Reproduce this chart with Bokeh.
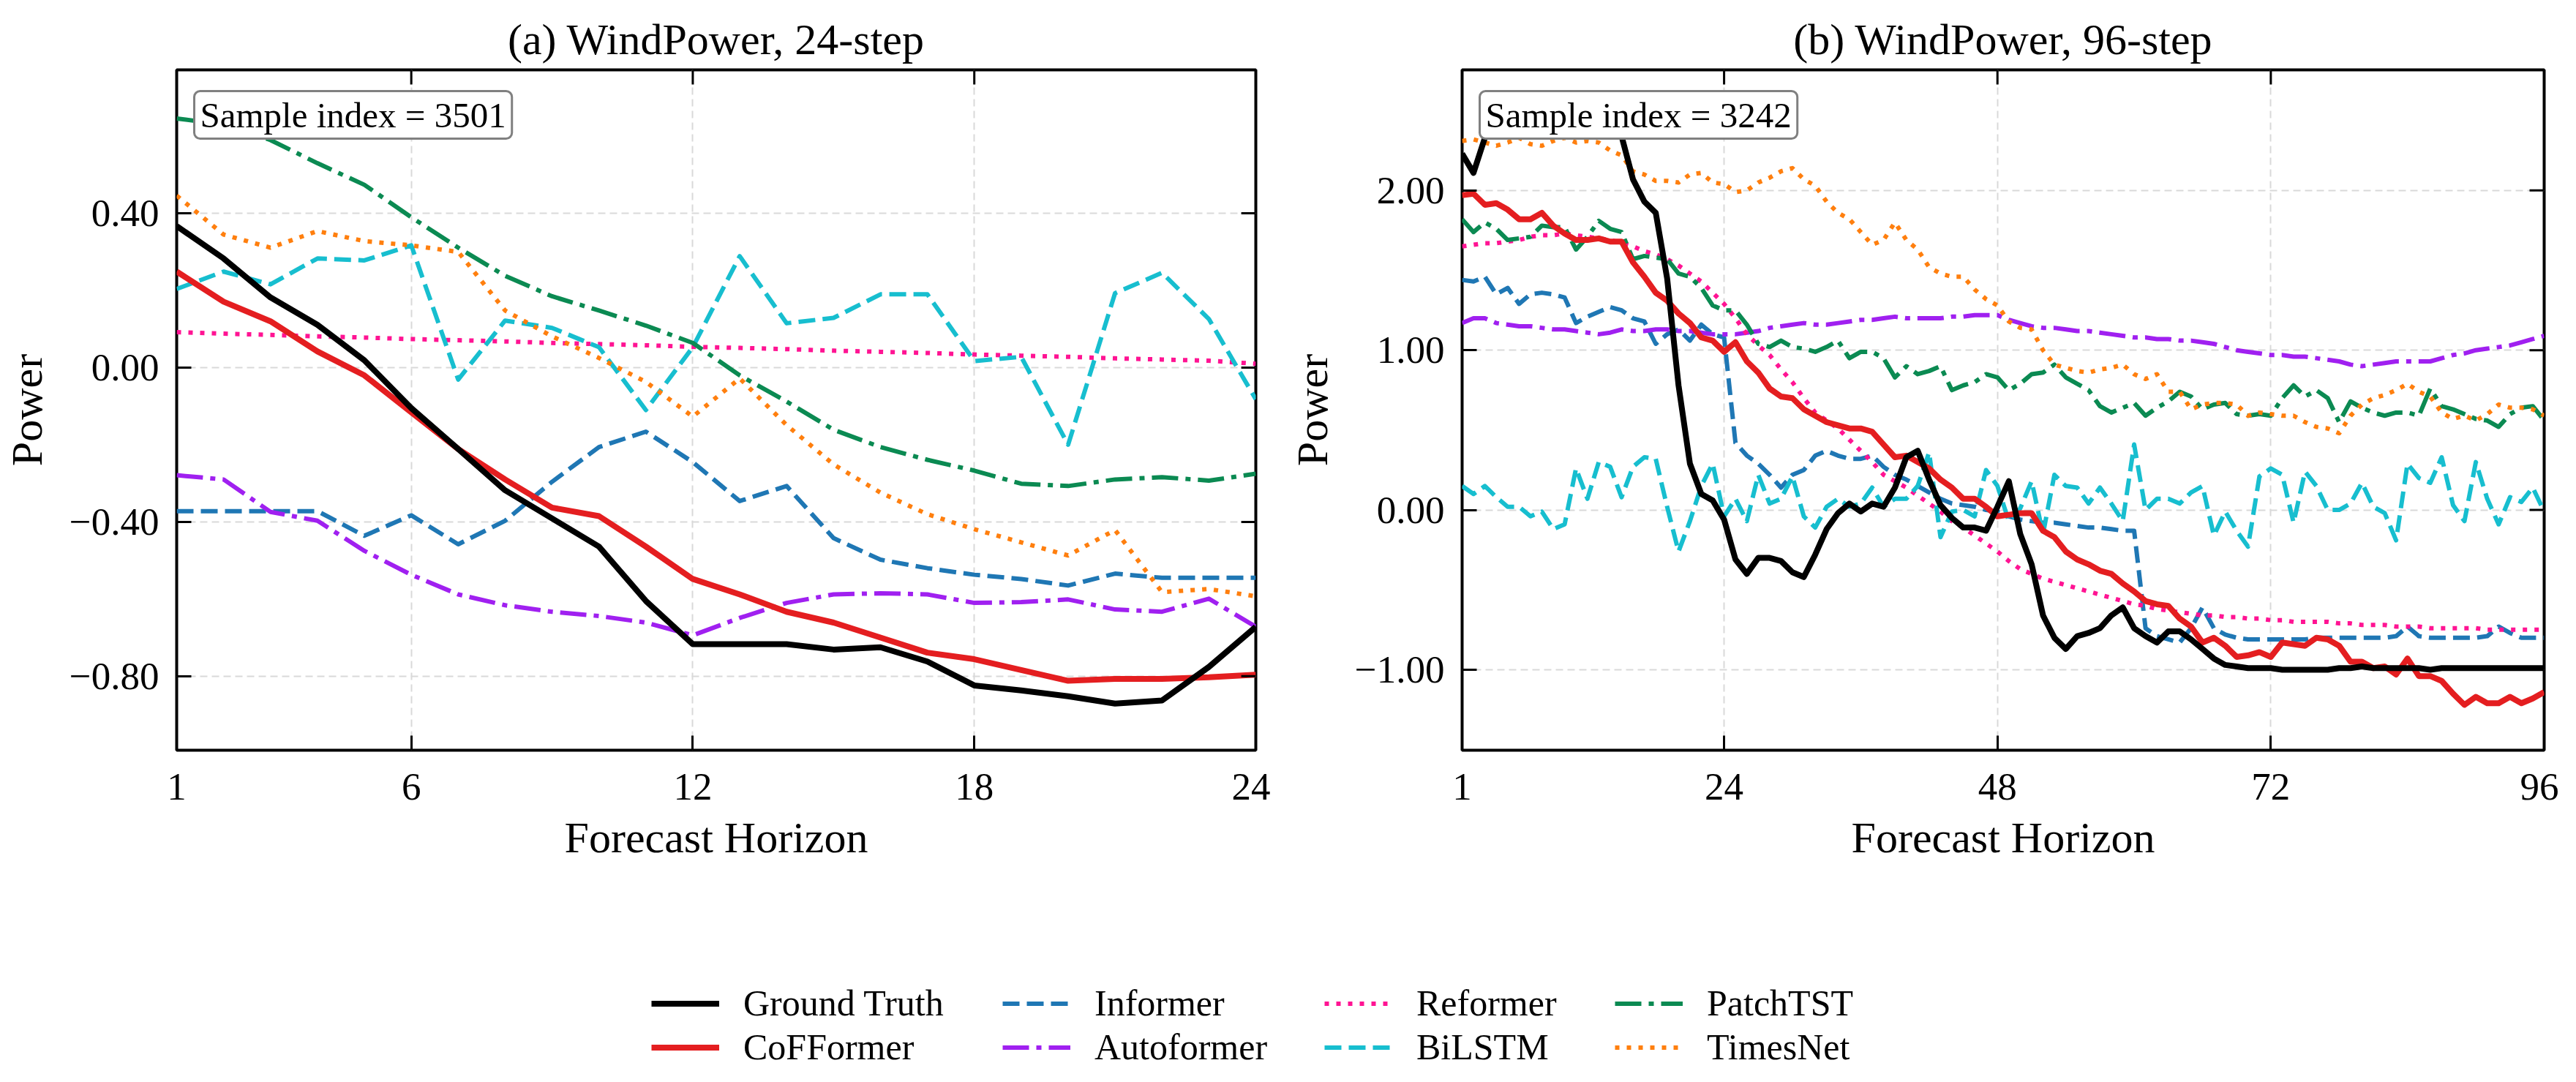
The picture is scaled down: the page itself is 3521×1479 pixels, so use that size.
from bokeh.plotting import figure
from bokeh.models import (Range1d, FixedTicker, CustomJSTickFormatter,
                          Label, Legend, LegendItem)
from bokeh.layouts import column, row
from bokeh.embed import file_html
from bokeh.resources import INLINE

FONT = "Liberation Serif"

# ---------------- data: panel (a) 24-step ----------------
steps_a = list(range(1, 25))
gt_a = [0.367, 0.283, 0.182, 0.111, 0.019, -0.105, -0.211, -0.318, -0.391, -0.464, -0.605, -0.717,
        -0.717, -0.717, -0.731, -0.725, -0.762, -0.824, -0.837, -0.852, -0.871, -0.863, -0.776, -0.672]
cof_a = [0.249, 0.171, 0.120, 0.042, -0.020, -0.116, -0.211, -0.290, -0.363, -0.385, -0.464, -0.548,
         -0.588, -0.633, -0.661, -0.700, -0.739, -0.756, -0.784, -0.812, -0.807, -0.807, -0.803, -0.796]
informer_a = [-0.372, -0.372, -0.372, -0.372, -0.436, -0.383, -0.458, -0.397, -0.296, -0.206, -0.166, -0.245,
              -0.346, -0.307, -0.442, -0.498, -0.520, -0.537, -0.548, -0.565, -0.534, -0.545, -0.545, -0.545]
autoformer_a = [-0.279, -0.290, -0.374, -0.397, -0.475, -0.537, -0.588, -0.616, -0.633, -0.644, -0.661, -0.694,
                -0.649, -0.610, -0.588, -0.585, -0.588, -0.610, -0.608, -0.601, -0.627, -0.633, -0.599, -0.672]
reformer_a = [0.092, 0.088, 0.085, 0.081, 0.078, 0.074, 0.071, 0.068, 0.064, 0.061, 0.058, 0.054,
              0.051, 0.048, 0.044, 0.041, 0.038, 0.034, 0.031, 0.028, 0.024, 0.021, 0.018, 0.010]
bilstm_a = [0.204, 0.249, 0.216, 0.283, 0.278, 0.317, -0.031, 0.122, 0.103, 0.053, -0.110, 0.053,
            0.289, 0.115, 0.129, 0.190, 0.190, 0.017, 0.028, -0.200, 0.193, 0.246, 0.126, -0.082]
patchtst_a = [0.646, 0.630, 0.590, 0.530, 0.474, 0.390, 0.311, 0.238, 0.185, 0.148, 0.109, 0.064,
              -0.020, -0.088, -0.161, -0.206, -0.239, -0.267, -0.301, -0.307, -0.290, -0.284, -0.293, -0.275]
timesnet_a = [0.446, 0.345, 0.311, 0.354, 0.328, 0.317, 0.300, 0.148, 0.081, 0.025, -0.037, -0.127,
              -0.028, -0.149, -0.251, -0.324, -0.380, -0.419, -0.453, -0.487, -0.421, -0.582, -0.574, -0.593]

# ---------------- data: panel (b) 96-step ----------------
steps_b = list(range(1, 97))
gt_b = [2.23, 2.11, 2.33, 2.45, 2.50, 2.52, 2.55, 2.56, 2.55, 2.53, 2.52, 2.50,
        2.48, 2.45, 2.34, 2.07, 1.93, 1.86, 1.45, 0.78, 0.29, 0.10, 0.06, -0.06,
        -0.31, -0.40, -0.30, -0.30, -0.32, -0.39, -0.42, -0.28, -0.12, -0.02, 0.04, -0.01,
        0.04, 0.02, 0.14, 0.33, 0.37, 0.19, 0.03, -0.05, -0.11, -0.11, -0.13, 0.02,
        0.18, -0.15, -0.34, -0.66, -0.80, -0.87, -0.79, -0.77, -0.74, -0.66, -0.61, -0.74,
        -0.79, -0.83, -0.76, -0.76, -0.81, -0.87, -0.93, -0.97, -0.98, -0.99, -0.99, -0.99,
        -1.00, -1.00, -1.00, -1.00, -1.00, -0.99, -0.99, -0.98, -0.99, -0.99, -0.99, -0.99,
        -0.99, -1.00, -0.99, -0.99, -0.99, -0.99, -0.99, -0.99, -0.99, -0.99, -0.99, -0.99]
cof_b = [1.97, 1.98, 1.91, 1.92, 1.88, 1.82, 1.82, 1.86, 1.78, 1.73, 1.69, 1.69,
         1.70, 1.68, 1.68, 1.55, 1.46, 1.36, 1.31, 1.23, 1.17, 1.08, 1.06, 0.99,
         1.05, 0.93, 0.86, 0.76, 0.71, 0.70, 0.63, 0.59, 0.55, 0.53, 0.51, 0.51,
         0.49, 0.41, 0.33, 0.34, 0.30, 0.26, 0.19, 0.14, 0.07, 0.07, 0.02, -0.04,
         -0.03, -0.02, -0.02, -0.13, -0.17, -0.26, -0.31, -0.34, -0.38, -0.40, -0.46, -0.51,
         -0.57, -0.59, -0.60, -0.68, -0.73, -0.83, -0.80, -0.85, -0.92, -0.91, -0.89, -0.92,
         -0.83, -0.84, -0.85, -0.80, -0.81, -0.85, -0.95, -0.95, -0.99, -0.98, -1.03, -0.93,
         -1.04, -1.04, -1.07, -1.15, -1.22, -1.17, -1.21, -1.21, -1.17, -1.21, -1.18, -1.14]
informer_b = [1.44, 1.43, 1.46, 1.35, 1.39, 1.29, 1.35, 1.36, 1.35, 1.33, 1.17, 1.21,
              1.24, 1.27, 1.25, 1.20, 1.18, 1.04, 1.10, 1.13, 1.06, 1.16, 1.10, 1.08,
              0.42, 0.34, 0.29, 0.22, 0.14, 0.22, 0.25, 0.34, 0.37, 0.34, 0.32, 0.32,
              0.34, 0.27, 0.22, 0.19, 0.15, 0.11, 0.07, 0.04, 0.03, 0.02, 0.00, -0.01,
              -0.04, -0.06, -0.07, -0.08, -0.08, -0.09, -0.10, -0.11, -0.11, -0.12, -0.13, -0.13,
              -0.74, -0.79, -0.81, -0.83, -0.74, -0.61, -0.74, -0.78, -0.80, -0.81, -0.81, -0.81,
              -0.81, -0.81, -0.81, -0.80, -0.80, -0.80, -0.80, -0.80, -0.80, -0.80, -0.79, -0.73,
              -0.79, -0.80, -0.80, -0.80, -0.80, -0.80, -0.79, -0.73, -0.77, -0.80, -0.80, -0.80]
autoformer_b = [1.17, 1.20, 1.20, 1.17, 1.16, 1.15, 1.15, 1.14, 1.13, 1.13, 1.12, 1.11,
                1.10, 1.11, 1.13, 1.12, 1.12, 1.13, 1.13, 1.12, 1.12, 1.11, 1.10, 1.10,
                1.10, 1.11, 1.12, 1.14, 1.15, 1.16, 1.17, 1.16, 1.16, 1.17, 1.18, 1.19,
                1.19, 1.20, 1.21, 1.20, 1.20, 1.20, 1.20, 1.21, 1.21, 1.22, 1.22, 1.22,
                1.19, 1.17, 1.15, 1.14, 1.14, 1.13, 1.12, 1.12, 1.11, 1.10, 1.09, 1.08,
                1.08, 1.07, 1.07, 1.06, 1.06, 1.05, 1.04, 1.02, 1.00, 0.99, 0.98, 0.97,
                0.97, 0.96, 0.96, 0.95, 0.94, 0.93, 0.91, 0.90, 0.91, 0.92, 0.93, 0.93,
                0.93, 0.93, 0.95, 0.97, 0.98, 1.00, 1.01, 1.02, 1.03, 1.05, 1.07, 1.09]
reformer_b = [1.65, 1.66, 1.67, 1.67, 1.68, 1.69, 1.71, 1.72, 1.72, 1.73, 1.72, 1.71,
              1.70, 1.69, 1.67, 1.65, 1.62, 1.60, 1.57, 1.53, 1.48, 1.43, 1.36, 1.29,
              1.20, 1.10, 1.03, 0.97, 0.88, 0.80, 0.70, 0.61, 0.56, 0.51, 0.44, 0.37,
              0.30, 0.22, 0.18, 0.14, 0.09, 0.04, -0.01, -0.07, -0.11, -0.16, -0.21, -0.26,
              -0.32, -0.37, -0.40, -0.43, -0.45, -0.47, -0.49, -0.51, -0.53, -0.55, -0.57, -0.59,
              -0.60, -0.62, -0.63, -0.64, -0.65, -0.66, -0.66, -0.67, -0.67, -0.68, -0.68, -0.69,
              -0.69, -0.70, -0.70, -0.70, -0.70, -0.71, -0.71, -0.72, -0.72, -0.72, -0.73, -0.73,
              -0.73, -0.74, -0.74, -0.74, -0.74, -0.74, -0.75, -0.75, -0.75, -0.75, -0.75, -0.75]
bilstm_b = [0.15, 0.10, 0.15, 0.08, 0.02, 0.02, -0.04, -0.01, -0.12, -0.09, 0.26, 0.07,
            0.30, 0.27, 0.08, 0.27, 0.33, 0.32, 0.02, -0.26, -0.07, 0.15, 0.29, -0.04,
            0.07, -0.07, 0.22, 0.04, 0.07, 0.21, -0.04, -0.11, 0.02, 0.07, 0.02, 0.04,
            0.14, 0.02, 0.07, 0.07, 0.15, 0.36, -0.17, -0.01, 0.00, -0.04, 0.25, 0.15,
            -0.07, 0.01, 0.18, -0.15, 0.22, 0.15, 0.14, 0.04, 0.14, 0.04, -0.07, 0.41,
            0.00, 0.07, 0.07, 0.04, 0.11, 0.15, -0.16, -0.01, -0.13, -0.23, 0.21, 0.26,
            0.22, -0.08, 0.24, 0.15, 0.00, 0.00, 0.04, 0.17, 0.02, -0.02, -0.19, 0.29,
            0.20, 0.17, 0.33, 0.03, -0.07, 0.30, 0.07, -0.09, 0.08, 0.05, 0.14, -0.01]
patchtst_b = [1.82, 1.74, 1.80, 1.76, 1.69, 1.70, 1.71, 1.78, 1.77, 1.77, 1.63, 1.71,
              1.81, 1.76, 1.74, 1.57, 1.59, 1.58, 1.57, 1.48, 1.46, 1.39, 1.28, 1.25,
              1.25, 1.16, 1.04, 1.02, 1.06, 1.02, 1.01, 0.99, 1.02, 1.06, 0.95, 0.99,
              0.99, 0.95, 0.83, 0.90, 0.85, 0.87, 0.90, 0.75, 0.78, 0.80, 0.85, 0.83,
              0.75, 0.79, 0.85, 0.86, 0.91, 0.83, 0.79, 0.75, 0.65, 0.61, 0.64, 0.67,
              0.59, 0.64, 0.68, 0.74, 0.71, 0.63, 0.66, 0.67, 0.60, 0.59, 0.60, 0.59,
              0.70, 0.78, 0.71, 0.75, 0.70, 0.55, 0.68, 0.64, 0.61, 0.59, 0.61, 0.61,
              0.59, 0.76, 0.65, 0.63, 0.60, 0.57, 0.56, 0.52, 0.60, 0.64, 0.65, 0.56]
timesnet_b = [2.31, 2.32, 2.30, 2.28, 2.30, 2.33, 2.29, 2.28, 2.31, 2.33, 2.30, 2.31,
              2.30, 2.25, 2.22, 2.12, 2.10, 2.06, 2.06, 2.05, 2.10, 2.11, 2.05, 2.04,
              1.99, 2.00, 2.05, 2.08, 2.12, 2.14, 2.07, 2.03, 1.93, 1.86, 1.82, 1.74,
              1.66, 1.69, 1.80, 1.69, 1.63, 1.52, 1.48, 1.46, 1.46, 1.38, 1.32, 1.28,
              1.18, 1.14, 1.13, 1.00, 0.91, 0.89, 0.87, 0.86, 0.88, 0.89, 0.91, 0.85,
              0.82, 0.85, 0.74, 0.74, 0.63, 0.66, 0.67, 0.67, 0.66, 0.59, 0.61, 0.60,
              0.59, 0.59, 0.55, 0.52, 0.51, 0.48, 0.59, 0.66, 0.70, 0.72, 0.75, 0.79,
              0.74, 0.71, 0.61, 0.57, 0.59, 0.56, 0.60, 0.66, 0.64, 0.64, 0.63, 0.59]

names = ["Ground Truth", "CoFFormer", "Informer", "Autoformer", "Reformer", "BiLSTM", "PatchTST", "TimesNet"]
series_a = dict(zip(names, [gt_a, cof_a, informer_a, autoformer_a, reformer_a, bilstm_a, patchtst_a, timesnet_a]))
series_b = dict(zip(names, [gt_b, cof_b, informer_b, autoformer_b, reformer_b, bilstm_b, patchtst_b, timesnet_b]))

xticks_a = [1, 6, 12, 18, 24]
xticks_b = [1, 24, 48, 72, 96]
yticks_a = [-0.8, -0.4, 0.0, 0.4]
yticks_b = [-1.0, 0.0, 1.0, 2.0]

STYLE = {
    "Ground Truth": dict(line_color="#000000", line_width=8, line_dash="solid"),
    "CoFFormer": dict(line_color="#e41e20", line_width=8, line_dash="solid"),
    "Informer": dict(line_color="#1f77b4", line_width=6, line_dash="23 10"),
    "Autoformer": dict(line_color="#a020f0", line_width=6, line_dash="36 10 7 10"),
    "Reformer": dict(line_color="#ff1493", line_width=6, line_dash="6 10"),
    "BiLSTM": dict(line_color="#17becf", line_width=6, line_dash="23 10"),
    "PatchTST": dict(line_color="#0b8a52", line_width=6, line_dash="36 10 7 10"),
    "TimesNet": dict(line_color="#ff7f0e", line_width=6, line_dash="6 10"),
}
DRAW_ORDER = ["Informer", "Autoformer", "Reformer", "BiLSTM", "PatchTST", "TimesNet", "CoFFormer", "Ground Truth"]

FRAME_H = 930
TICK_LEN = 20
yfmt_code = "return (tick < -1e-9 ? '\\u2212' : '') + Math.abs(tick).toFixed(2);"


def style_axis(ax, ticks):
    ax.ticker = FixedTicker(ticks=ticks)
    ax.axis_line_color = None
    ax.major_tick_in = TICK_LEN
    ax.major_tick_out = 0
    ax.major_tick_line_width = 3
    ax.major_tick_line_color = "black"
    ax.minor_tick_line_color = None
    ax.major_label_text_font = FONT
    ax.major_label_text_font_size = "53px"
    ax.major_label_text_color = "black"
    ax.axis_label_text_font = FONT
    ax.axis_label_text_font_size = "60px"
    ax.axis_label_text_font_style = "normal"
    ax.axis_label_text_color = "black"


def make_panel(title, x, series, xr, yr, xticks, yticks, sample, width, bl, br, frame_w):
    p = figure(width=width, height=1192, x_range=Range1d(*xr), y_range=Range1d(*yr),
               output_backend="svg", toolbar_location=None,
               min_border_left=bl, min_border_right=br, min_border_top=95, min_border_bottom=167,
               title=title)
    p.title.text_font = FONT
    p.title.text_font_size = "60px"
    p.title.text_font_style = "normal"
    p.title.align = "center"
    p.title.text_color = "black"
    p.title.standoff = 18
    p.outline_line_color = "black"
    p.outline_line_width = 4
    p.outline_line_alpha = 1.0
    p.background_fill_color = "white"
    p.border_fill_color = "white"

    xa = p.xaxis[0]
    ya = p.yaxis[0]
    style_axis(xa, xticks)
    style_axis(ya, yticks)
    xa.axis_label = "Forecast Horizon"
    ya.axis_label = "Power"
    xa.major_label_standoff = 32
    ya.major_label_standoff = 24
    xa.axis_label_standoff = 16
    ya.axis_label_standoff = 22
    ya.formatter = CustomJSTickFormatter(code=yfmt_code)

    p.xgrid.ticker = FixedTicker(ticks=xticks)
    p.ygrid.ticker = FixedTicker(ticks=yticks)
    for g in (p.xgrid, p.ygrid):
        g.grid_line_color = "#d9d9d9"
        g.grid_line_dash = "10 6"
        g.grid_line_width = 2
        g.grid_line_alpha = 1.0

    for name in DRAW_ORDER:
        p.line(x, series[name], line_cap="butt", line_join="round", **STYLE[name])

    # inward ticks on the top and right edges (mirrors of the bottom/left ticks)
    dy = TICK_LEN * (yr[1] - yr[0]) / FRAME_H
    dx = TICK_LEN * (xr[1] - xr[0]) / frame_w
    p.segment(x0=xticks, y0=[yr[1]] * len(xticks), x1=xticks, y1=[yr[1] - dy] * len(xticks),
              line_color="black", line_width=3, line_cap="butt")
    p.segment(x0=[xr[1]] * len(yticks), y0=yticks, x1=[xr[1] - dx] * len(yticks), y1=yticks,
              line_color="black", line_width=3, line_cap="butt")

    lab = Label(x=24, y=FRAME_H - 29, x_units="screen", y_units="screen", text=sample,
                text_font=FONT, text_font_size="49px", text_color="black",
                text_align="left", text_baseline="top",
                border_line_color="#808080", border_line_width=3,
                background_fill_color="white", background_fill_alpha=1.0,
                padding=dict(left=8, right=8, top=5, bottom=5), border_radius=8)
    p.add_layout(lab)
    return p


p1 = make_panel("(a) WindPower, 24-step", steps_a, series_a, (1, 24), (-0.992, 0.772),
                xticks_a, yticks_a, "Sample index = 3501", 1736, 235, 20, 1481)
p2 = make_panel("(b) WindPower, 96-step", steps_b, series_b, (1, 96), (-1.504, 2.755),
                xticks_b, yticks_b, "Sample index = 3242", 1761, 262, 20, 1479)

# ---------------- legend strip ----------------
pl = figure(width=3497, height=272, x_range=Range1d(0, 1), y_range=Range1d(0, 1),
            output_backend="svg", toolbar_location=None, min_border=0,
            x_axis_type=None, y_axis_type=None)
pl.outline_line_color = None
pl.grid.visible = False
dummy = {}
for name in names:
    # kept outside the visible range: only their legend swatches show
    dummy[name] = pl.line(x=[5, 6], y=[5, 6], line_cap="butt", **STYLE[name])

legend_cols = [["Ground Truth", "CoFFormer"], ["Informer", "Autoformer"],
               ["Reformer", "BiLSTM"], ["PatchTST", "TimesNet"]]
legend_x = [890, 1370, 1810, 2207]
for cx, col_names in zip(legend_x, legend_cols):
    leg = Legend(items=[LegendItem(label=n, renderers=[dummy[n]]) for n in col_names],
                 location=(cx, 4), orientation="vertical",
                 glyph_width=93, glyph_height=55, label_height=55, label_standoff=33,
                 spacing=2, padding=0, margin=0,
                 border_line_color=None, background_fill_alpha=0,
                 label_text_font=FONT, label_text_font_size="50px", label_text_color="black")
    pl.add_layout(leg, "center")

layout = column(row(p1, p2), pl)
open("out.html", "w").write(file_html(layout, INLINE))
